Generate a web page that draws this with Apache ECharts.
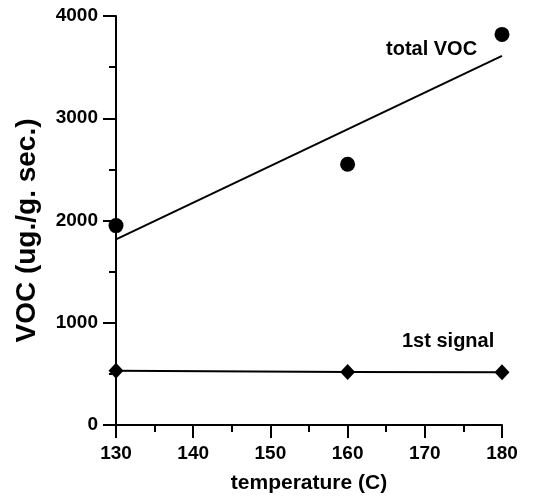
<!DOCTYPE html>
<html>
<head>
<meta charset="utf-8">
<script src="https://cdn.jsdelivr.net/npm/echarts@6/dist/echarts.min.js"></script>
<style>
html,body{margin:0;padding:0;background:#fff;}
#c{width:549px;height:501px;}
</style>
</head>
<body>
<div id="c"></div>
<script>
// Data
var temperatures = [130, 160, 180];
var totalVOC = [1950, 2550, 3820];
var firstSignal = [530, 518, 515];
var fitTemps = [130, 180];
var fitVOC = [1815, 3610];
var yTicks = [0, 1000, 2000, 3000, 4000];
var xTicks = [130, 140, 150, 160, 170, 180];

var FONT = '"Liberation Sans", Arial, sans-serif';

function pairs(xs, ys) { return xs.map(function (x, i) { return [x, ys[i]]; }); }

var chart = echarts.init(document.getElementById('c'), null, {renderer: 'canvas'});
chart.setOption({
  animation: false,
  backgroundColor: '#fff',
  grid: {left: 116, right: 47, top: 16, bottom: 76, containLabel: false},
  xAxis: {
    type: 'value', min: xTicks[0], max: xTicks[xTicks.length - 1], interval: 10,
    name: 'temperature (C)', nameLocation: 'middle', nameGap: 48,
    nameTextStyle: {fontFamily: FONT, fontWeight: 'bold', fontSize: 21, color: '#000'},
    axisLine: {onZero: false, lineStyle: {color: '#000', width: 2}},
    axisTick: {show: true, length: 13, lineStyle: {color: '#000', width: 2}},
    minorTick: {show: true, splitNumber: 2, length: 7, lineStyle: {color: '#000', width: 2}},
    axisLabel: {margin: 19, fontFamily: FONT, fontWeight: 'bold', fontSize: 19, color: '#000',
      formatter: function (v) { return String(v); }},
    splitLine: {show: false}
  },
  yAxis: {
    type: 'value', min: yTicks[0], max: yTicks[yTicks.length - 1], interval: 1000,
    name: 'VOC (ug./g. sec.)', nameLocation: 'middle', nameGap: 75,
    nameTextStyle: {fontFamily: FONT, fontWeight: 'bold', fontSize: 28, color: '#000',
      padding: [0, 20, 0, 0]},
    axisLine: {onZero: false, lineStyle: {color: '#000', width: 2}},
    axisTick: {show: true, length: 13, lineStyle: {color: '#000', width: 2}},
    minorTick: {show: true, splitNumber: 2, length: 7, lineStyle: {color: '#000', width: 2}},
    axisLabel: {margin: 18, fontFamily: FONT, fontWeight: 'bold', fontSize: 19, color: '#000',
      formatter: function (v) { return String(v); }},
    splitLine: {show: false}
  },
  graphic: [
    {type: 'text', left: 386, top: 39, style: {text: 'total VOC', font: 'bold 20px ' + FONT, fill: '#000'}},
    {type: 'text', left: 402, top: 331, style: {text: '1st signal', font: 'bold 20px ' + FONT, fill: '#000'}}
  ],
  series: [
    {
      name: 'fit', type: 'line', data: pairs(fitTemps, fitVOC), showSymbol: false,
      lineStyle: {color: '#000', width: 2}, silent: true, z: 2
    },
    {
      name: 'total VOC', type: 'scatter', data: pairs(temperatures, totalVOC),
      symbol: 'circle', symbolSize: 15, itemStyle: {color: '#000', opacity: 1}, z: 3
    },
    {
      name: '1st signal', type: 'line', data: pairs(temperatures, firstSignal),
      symbol: 'diamond', symbolSize: [15, 16], showSymbol: true,
      lineStyle: {color: '#000', width: 2}, itemStyle: {color: '#000', opacity: 1}, z: 3
    }
  ]
});
</script>
</body>
</html>
